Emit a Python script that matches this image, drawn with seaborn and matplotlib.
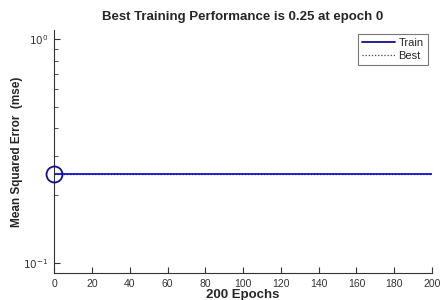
import matplotlib
matplotlib.use("Agg")
import matplotlib.pyplot as plt
import seaborn as sns
import pandas as pd

# training record
epochs = [0, 200]
train_mse = [0.25, 0.25]
best_mse = [0.25, 0.25]
best_epoch = 0
best_value = 0.25
x_ticks = [0, 20, 40, 60, 80, 100, 120, 140, 160, 180, 200]

sns.set_style("ticks")
plt.rcParams['font.family'] = ['Liberation Sans', 'DejaVu Sans']

df = pd.DataFrame({"epoch": epochs, "train": train_mse, "best": best_mse})

fig = plt.figure(figsize=(4.4, 3.0), dpi=100)
ax = fig.add_axes([0.123, 0.09, 0.859, 0.81])

sns.lineplot(data=df, x="epoch", y="train", ax=ax, color="#1515e0", lw=1.3, label="Train")
sns.lineplot(data=df, x="epoch", y="best", ax=ax, color="#10108a", lw=0.9,
             linestyle=(0, (1, 1.5)), label="Best")
ax.plot([best_epoch], [best_value], marker="o", ms=11.5, mfc="none", mec="#10108a",
        mew=1.3, linestyle="none", clip_on=False, zorder=5)

ax.set_yscale("log")
ax.set_xlim(0, 200)
ax.set_ylim(0.09, 1.1)
ax.set_xticks(x_ticks)
ax.set_yticks([0.1, 1])
ax.set_yticklabels([r"$10^{-1}$", r"$10^{0}$"])
ax.tick_params(axis="both", which="both", direction="in", labelsize=7.5, colors="#333333")
ax.tick_params(axis="y", which="minor", length=3)
ax.tick_params(axis="both", which="major", length=4, pad=4)
sns.despine(ax=ax)
for s in ["left", "bottom"]:
    ax.spines[s].set_linewidth(0.8)
    ax.spines[s].set_color("#333333")

ax.set_title("Best Training Performance is 0.25 at epoch 0", fontsize=9.5,
             fontweight="bold", pad=7)
ax.set_xlabel("200 Epochs", fontsize=9.5, fontweight="bold", labelpad=0)
ax.set_ylabel("Mean Squared Error  (mse)", fontsize=8.5, fontweight="bold", labelpad=0)

leg = ax.legend(loc="upper right", fontsize=8, frameon=True, fancybox=False,
                handlelength=3.0, borderpad=0.35, labelspacing=0.25,
                handletextpad=0.3, borderaxespad=0.4)
leg.get_frame().set_edgecolor("#555555")
leg.get_frame().set_linewidth(0.8)
leg.get_lines()[0].set_color("#10108a")
leg.get_lines()[1].set_color("#444444")

fig.savefig("out.png", dpi=100)
